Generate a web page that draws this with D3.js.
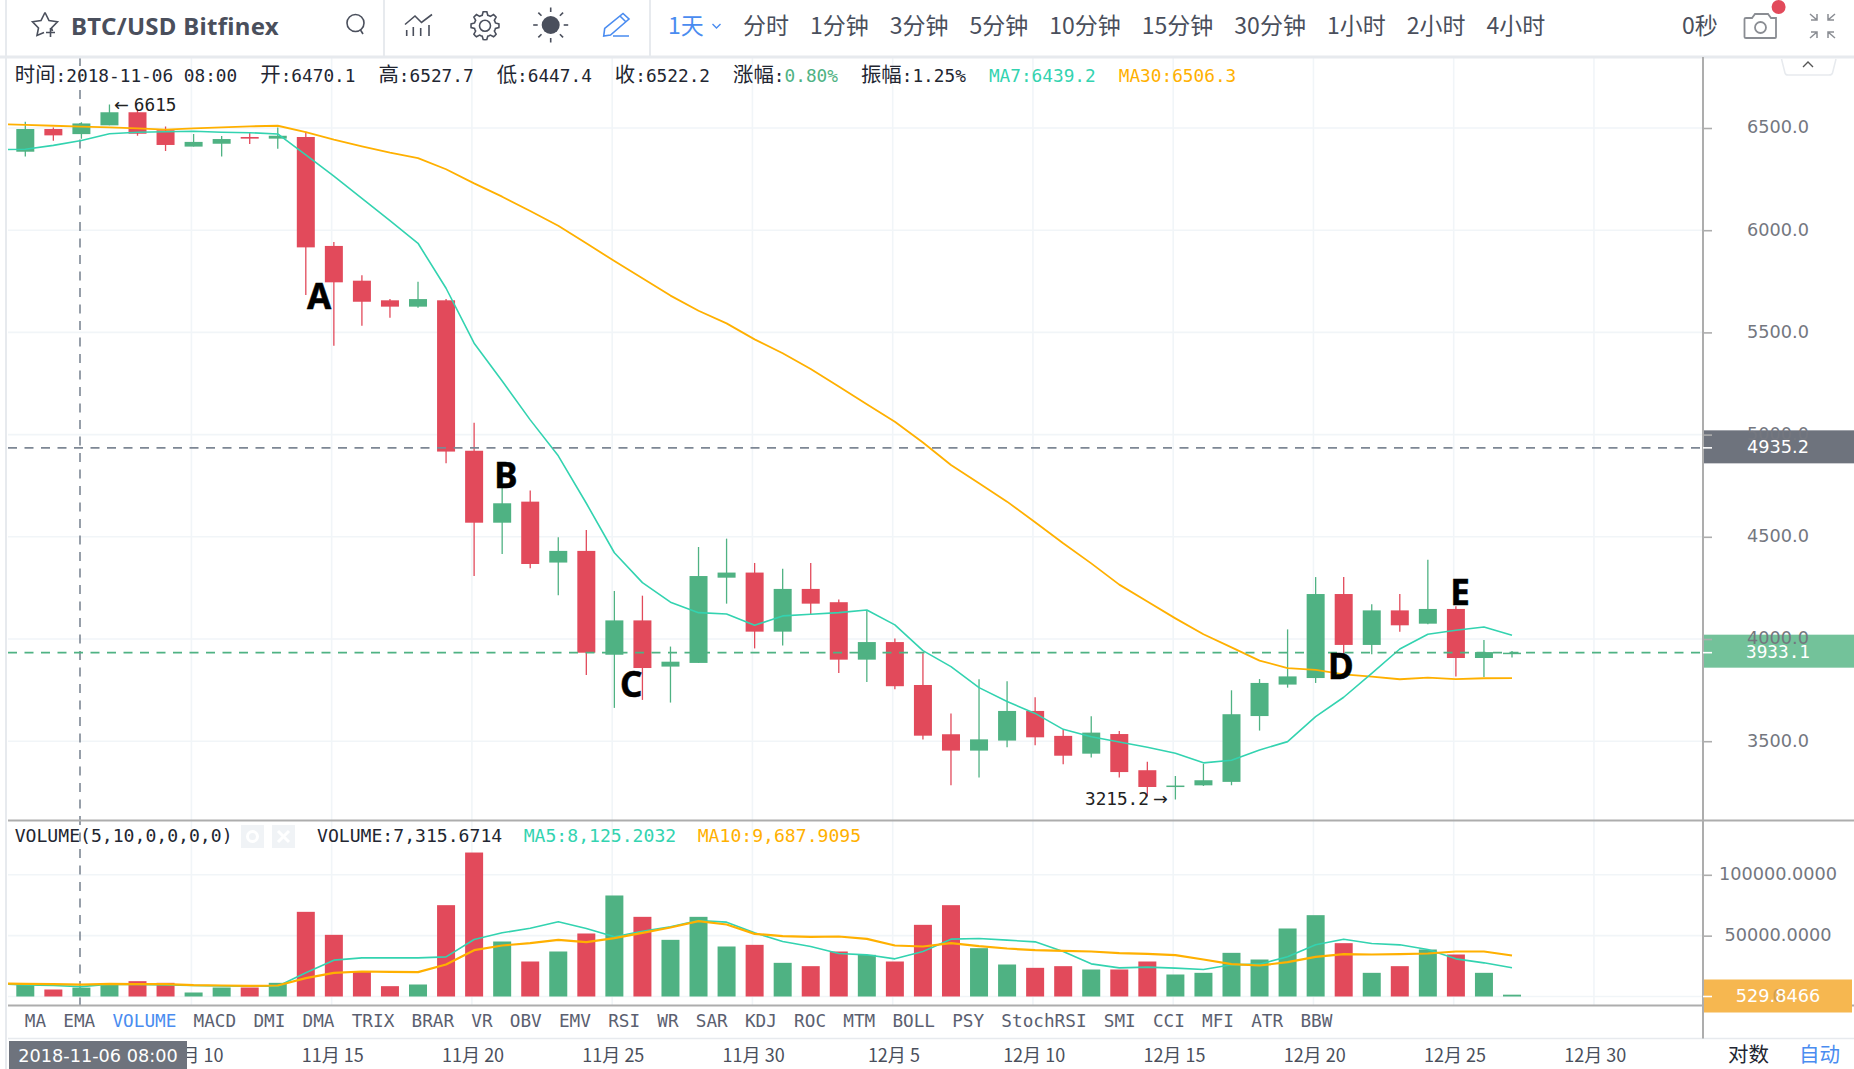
<!DOCTYPE html>
<html>
<head>
<meta charset="utf-8">
<script src="https://cdn.jsdelivr.net/npm/d3@7"></script>
<style>
  html, body { margin: 0; padding: 0; background: #fff; overflow: hidden; }
  svg { display: block; }
  text { font-family: "DejaVu Sans", "Noto Sans CJK SC", sans-serif; }
  .mono { font-family: "DejaVu Sans Mono", monospace; font-size: 17.7px; }
</style>
</head>
<body>
<svg id="chart" width="1854" height="1069"></svg>
<script>
// daily candles, 2018-11-04 .. 2018-12-27
var opens = [6384,6495,6470.1,6513,6577,6489,6409,6423,6456,6448,6456,5923,5753,5657,5626,5657,4921,4569,4672,4374,4431,3923,4091,3865,3883,4300,4325,4036,4245,4180,3899,3985,3775,3534,3454,3503,3648,3526,3439,3535,3358,3279,3284,3301,3623,3777,3809,4220,3971,4140,4075,4147,3907,3930];
var highs = [6531,6502,6527.7,6615,6590,6507,6471,6461,6480,6503,6482,5942,5779,5663,5748,5663,5058,4740,4726,4498,4533,4235,4212,3963,4450,4491,4372,4344,4372,4193,4142,4003,3930,3635,3803,3793,3715,3555,3622,3550,3400,3330,3389,3749,3804,4047,4303,4303,4170,4220,4388,4160,3995,3941];
var lows = [6360,6438,6447.4,6513,6462,6387,6409,6360,6422,6399,5683,5435,5533,5572,5620,4860,4308,4416,4346,4214,3824,3663,3702,3689,3883,4173,3954,3968,4118,3834,3790,3754,3508,3284,3322,3470,3480,3387,3420,3322,3229,3215.2,3281,3284,3552,3762,3785,3930,3925,4036,4072,3816,3814,3910];
var closes = [6495,6464,6522.2,6577,6472,6417,6432,6446,6448,6462,5916,5745,5650,5626,5663,4917,4569,4664,4367,4431,3933,4091,3858,3889,4308,4325,4036,4245,4173,3899,3985,3769,3527,3454,3509,3648,3519,3429,3542,3349,3276,3283,3309,3632,3785,3817,4220,3971,4140,4067,4147,3907,3936,3933.1];
var volumes = [9860,5750,7315.67,9860,12600,11230,3290,7400,7400,11230,69570,50670,20540,8490,9860,75050,118300,45190,28760,36980,51770,83000,65460,46560,65460,41085,42450,27660,24920,36980,34240,28760,58890,75050,39720,26290,23560,24920,22190,22190,28760,18080,19450,35880,30400,55880,66830,43820,19450,24920,38620,34510,19450,1500];

// moving averages start one day before the first visible candle
var ma7 = [6394,6396,6415,6439.2,6472,6479,6482,6484,6479,6477,6471,6368,6265,6156,6047,5936,5716,5447,5262,5072,4896,4664,4422,4276,4180,4129,4122,4067,4113,4121,4129,4142,4069,3943,3865,3762,3694,3636,3558,3522,3496,3470,3441,3394,3407,3457,3498,3620,3715,3832,3951,4023,4043,4059,4018];
var ma30 = [6520,6515,6511,6506.3,6503,6498,6492,6498,6503,6508,6511,6480,6443,6410,6379,6353,6298,6229,6164,6094,6022,5936,5849,5765,5680,5606,5544,5466,5398,5321,5235,5148,5063,4961,4851,4762,4672,4571,4468,4370,4266,4183,4101,4023,3959,3894,3858,3849,3827,3816,3803,3811,3804,3808,3809];
var volMa5 = [10408,9587,9039,8125.2,10134,9860,9587,9039,8765,8491,8491,19447,29855,31772,31772,31772,32594,46837,52315,56150,61354,55876,49028,53684,57245,62449,61080,52315,45194,41085,35333,34238,30951,36977,47111,47659,46289,44920,36977,26842,23555,24103,23282,22186,26021,26568,32594,42455,47111,43550,42455,38620,30951,27664,23555];
var volMa10 = [10682,10408,10134,9687.9,10408,10134,10134,9313,9039,8765,9039,15065,19447,20543,20269,19995,26294,38072,41907,43824,46563,44646,47933,52315,56697,61901,59162,51493,49576,49028,49302,47385,41907,41085,43824,41359,39442,38072,37524,36977,35607,35059,33964,30403,26568,25473,28212,32594,34785,34511,34785,35333,36977,36977,33690];

var priceTicks = [6500,6000,5500,5000,4500,4000,3500];
var volumeTicks = [100000,50000];
var dateTickIdx = [6,11,16,21,26,31,36,41,46,51,56];
var dateTickLabels = ["11月 10","11月 15","11月 20","11月 25","11月 30","12月 5","12月 10","12月 15","12月 20","12月 25","12月 30"];
var intervals = ["分时","1分钟","3分钟","5分钟","10分钟","15分钟","30分钟","1小时","2小时","4小时"];
var indicators = ["MA","EMA","VOLUME","MACD","DMI","DMA","TRIX","BRAR","VR","OBV","EMV","RSI","WR","SAR","KDJ","ROC","MTM","BOLL","PSY","StochRSI","SMI","CCI","MFI","ATR","BBW"];
var marks = [["A",10.47,5615],["B",17.13,4739],["C",21.6,3716],["D",46.9,3805],["E",51.15,4167]];

var GREEN = "#4fb283", RED = "#e24a5b", TEAL = "#33d3b0", ORANGE = "#ffb000",
    GREY = "#7d8794", INK = "#4a4f5c", BLUE = "#4a8cf0", GRID = "#f1f5f8", RULE = "#adadad", EDGE = "#e7eaee";

var AXIS_X = 1703, LEFT = 8, TOP = 57, MAIN_BOTTOM = 820.5, VOL_BOTTOM = 1005.5, TABS_BOTTOM = 1038.5;

var svg = d3.select("#chart");

var x = d3.scaleLinear().domain([0, 53]).range([25.3, 1512]);
var y = d3.scaleLinear().domain([6500, 3500]).range([128, 741.2]);
var yVol = d3.scaleLinear().domain([0, 100000]).range([996.5, 874.8]);
var BODY = 18;

svg.append("defs").append("clipPath").attr("id", "plot")
  .append("rect").attr("x", LEFT).attr("y", TOP).attr("width", AXIS_X - LEFT).attr("height", VOL_BOTTOM - TOP);

// grid
var grid = svg.append("g").attr("stroke", GRID).attr("stroke-width", 1.6);
grid.selectAll(".v").data(dateTickIdx).join("line")
  .attr("x1", function (d) { return x(d) - 2.2; }).attr("x2", function (d) { return x(d) - 2.2; })
  .attr("y1", TOP).attr("y2", VOL_BOTTOM);
grid.selectAll(".h").data(priceTicks).join("line")
  .attr("x1", LEFT).attr("x2", AXIS_X).attr("y1", y).attr("y2", y);
grid.selectAll(".hv").data(volumeTicks.concat([0])).join("line")
  .attr("x1", LEFT).attr("x2", AXIS_X).attr("y1", yVol).attr("y2", yVol);

var plot = svg.append("g").attr("clip-path", "url(#plot)");

// crosshair sits under the candles
plot.append("line").attr("x1", 80).attr("x2", 80).attr("y1", TOP).attr("y2", VOL_BOTTOM)
  .attr("stroke", GREY).attr("stroke-width", 1.6).attr("stroke-dasharray", "9 7.5");

function colorOf(i) { return closes[i] >= opens[i] ? GREEN : RED; }

// wicks, bodies
plot.selectAll(".wick").data(highs).join("line")
  .attr("x1", function (d, i) { return x(i); }).attr("x2", function (d, i) { return x(i); })
  .attr("y1", function (d) { return y(d); }).attr("y2", function (d, i) { return y(lows[i]); })
  .attr("stroke", function (d, i) { return colorOf(i); }).attr("stroke-width", 1.3);
plot.selectAll(".body").data(opens).join("rect")
  .attr("x", function (d, i) { return x(i) - BODY / 2; })
  .attr("y", function (d, i) { return y(Math.max(d, closes[i])); })
  .attr("width", BODY)
  .attr("height", function (d, i) { return Math.max(1.5, Math.abs(y(d) - y(closes[i]))); })
  .attr("fill", function (d, i) { return colorOf(i); });

// volume
plot.selectAll(".vol").data(volumes).join("rect")
  .attr("x", function (d, i) { return x(i) - BODY / 2; })
  .attr("y", function (d) { return yVol(d); })
  .attr("width", BODY)
  .attr("height", function (d) { return yVol(0) - yVol(d); })
  .attr("fill", function (d, i) { return colorOf(i); });

function maLine(scale) {
  return d3.line().x(function (d, i) { return x(i - 1); }).y(function (d) { return scale(d); });
}
function drawLine(values, scale, color, width) {
  plot.append("path").datum(values).attr("d", maLine(scale))
    .attr("fill", "none").attr("stroke", color).attr("stroke-width", width).attr("stroke-linejoin", "round");
}
drawLine(ma30, y, ORANGE, 1.8);
drawLine(ma7, y, TEAL, 1.6);
drawLine(volMa5, yVol, TEAL, 1.6);
drawLine(volMa10, yVol, ORANGE, 2.2);

// last / hovered price lines
var hoverPrice = 4935.2, lastPrice = 3933.1, lastVolume = 529.8466;
[[hoverPrice, GREY], [lastPrice, GREEN]].forEach(function (p) {
  svg.append("line").attr("x1", LEFT).attr("x2", AXIS_X).attr("y1", y(p[0])).attr("y2", y(p[0]))
    .attr("stroke", p[1]).attr("stroke-width", 1.8).attr("stroke-dasharray", "9 7.5");
});

// A-E marks
svg.selectAll(".mark").data(marks).join("text")
  .attr("x", function (d) { return x(d[1]); }).attr("y", function (d) { return y(d[2]); })
  .attr("text-anchor", "middle").attr("fill", "#000").attr("stroke", "#000").attr("stroke-width", 0.5)
  .style("font-family", '"Noto Sans", sans-serif').style("font-weight", 700).style("font-size", "35px")
  .text(function (d) { return d[0]; });

// high / low notes, the arrows come from the wider sans font
var noteHigh = svg.append("text").attr("class", "mono").attr("x", 114).attr("y", 110.5).attr("fill", "#222");
noteHigh.append("tspan").style("font-family", '"DejaVu Sans"').text("←");
noteHigh.append("tspan").attr("dx", 5).text("6615");
var noteLow = svg.append("text").attr("class", "mono").attr("x", 1085).attr("y", 804.5).attr("fill", "#222");
noteLow.append("tspan").text("3215.2");
noteLow.append("tspan").attr("dx", 4).style("font-family", '"DejaVu Sans"').text("→");

// price label boxes go under the axis text so the ticks still show through
svg.append("rect").attr("x", 1702).attr("y", y(hoverPrice) - 17.5).attr("width", 152).attr("height", 33).attr("fill", "#6e737d");
svg.append("rect").attr("x", 1702).attr("y", y(lastPrice) - 18).attr("width", 152).attr("height", 33).attr("fill", "#73c29a");
svg.append("rect").attr("x", 1702).attr("y", yVol(0) - 17).attr("width", 150).attr("height", 33).attr("fill", "#f6b750");

// frame
svg.append("rect").attr("x", 0).attr("y", 0).attr("width", 1854).attr("height", 56).attr("fill", "#fff");
var frame = svg.append("g");
frame.append("line").attr("x1", 0).attr("x2", 1854).attr("y1", 57).attr("y2", 57).attr("stroke", EDGE).attr("stroke-width", 3);
frame.append("line").attr("x1", 6).attr("x2", 6).attr("y1", 0).attr("y2", 1069).attr("stroke", EDGE).attr("stroke-width", 2);
frame.append("line").attr("x1", 384).attr("x2", 384).attr("y1", 0).attr("y2", 56).attr("stroke", EDGE).attr("stroke-width", 2);
frame.append("line").attr("x1", 650).attr("x2", 650).attr("y1", 0).attr("y2", 56).attr("stroke", EDGE).attr("stroke-width", 2);
frame.append("line").attr("x1", LEFT).attr("x2", 1854).attr("y1", MAIN_BOTTOM).attr("y2", MAIN_BOTTOM).attr("stroke", RULE).attr("stroke-width", 2);
frame.append("line").attr("x1", LEFT).attr("x2", 1702).attr("y1", VOL_BOTTOM).attr("y2", VOL_BOTTOM).attr("stroke", RULE).attr("stroke-width", 2);
frame.append("line").attr("x1", 1852).attr("x2", 1854).attr("y1", VOL_BOTTOM).attr("y2", VOL_BOTTOM).attr("stroke", RULE).attr("stroke-width", 2);
frame.append("line").attr("x1", LEFT).attr("x2", 1854).attr("y1", TABS_BOTTOM).attr("y2", TABS_BOTTOM).attr("stroke", EDGE).attr("stroke-width", 1.5);
frame.append("line").attr("x1", AXIS_X).attr("x2", AXIS_X).attr("y1", TOP).attr("y2", TABS_BOTTOM).attr("stroke", RULE).attr("stroke-width", 2);

// axes
function styleAxis(g) {
  g.select(".domain").remove();
  g.selectAll(".tick line").attr("stroke", RULE).attr("stroke-width", 1.6);
  g.selectAll(".tick text").attr("x", 75).attr("y", -0.8).attr("text-anchor", "middle").attr("fill", "#74777f")
    .style("font-size", "17.7px").style("font-family", '"DejaVu Sans", sans-serif');
}
svg.append("g").attr("transform", "translate(" + AXIS_X + ",0)")
  .call(d3.axisRight(y).tickValues(priceTicks).tickFormat(d3.format(".1f")).tickSize(9))
  .call(styleAxis);
svg.append("g").attr("transform", "translate(" + AXIS_X + ",0)")
  .call(d3.axisRight(yVol).tickValues(volumeTicks).tickFormat(d3.format(".4f")).tickSize(9))
  .call(styleAxis);

var xAxis = svg.append("g").attr("transform", "translate(0," + (TABS_BOTTOM + 1) + ")")
  .call(d3.axisBottom(d3.scaleLinear().domain([0, 53]).range([x(0) - 1.5, x(53) - 1.5]))
    .tickValues(dateTickIdx).tickSize(0)
    .tickFormat(function (d, i) { return dateTickLabels[i]; }));
xAxis.select(".domain").remove();
xAxis.selectAll("text").attr("y", 22).attr("dy", 0).attr("fill", INK)
  .style("font-size", "18px").style("font-family", '"Noto Sans CJK SC", sans-serif');

// value labels on the axis
function priceTag(val, txt, cls) {
  svg.append("line").attr("x1", AXIS_X).attr("x2", AXIS_X + 9).attr("y1", val).attr("y2", val).attr("stroke", "#fff").attr("stroke-width", 1.6);
  svg.append("text").attr("class", cls || null).attr("x", 1778).attr("y", val - 0.8).attr("dy", "0.36em")
    .attr("text-anchor", "middle").attr("fill", "#fff").style("font-size", "17.7px").text(txt);
}
svg.append("text").attr("x", 1778).attr("y", yVol(0) - 0.8).attr("dy", "0.36em").attr("text-anchor", "middle")
  .attr("fill", "#cfa050").style("font-size", "17.7px").text("0");
priceTag(y(hoverPrice), hoverPrice.toFixed(1));
priceTag(y(lastPrice), lastPrice.toFixed(1), "mono");
priceTag(yVol(0), lastVolume.toFixed(4));

// crosshair date label
svg.append("rect").attr("x", 9).attr("y", 1041).attr("width", 178).attr("height", 28).attr("fill", "#6e737d");
svg.append("text").attr("x", 98).attr("y", 1061.5).attr("text-anchor", "middle").attr("fill", "#fff")
  .style("font-size", "17.7px").text("2018-11-06 08:00");

// rows of mono text; the CJK glyphs run wider than the latin ones in the original
function monoRow(startX, baseline, gap, size, segments) {
  var cur = startX;
  segments.forEach(function (seg) {
    var t = svg.append("text").attr("class", "mono").attr("x", cur).attr("y", baseline).style("font-size", size + "px");
    seg.forEach(function (part) {
      part[0].split(/([\u4e00-\u9fff]+)/).forEach(function (s) {
        if (!s) return;
        var span = t.append("tspan").attr("fill", part[1]).text(s);
        if (/[\u4e00-\u9fff]/.test(s)) span.style("font-family", '"Noto Sans CJK SC"').style("font-size", "20.4px");
      });
    });
    cur += t.node().getComputedTextLength() + gap;
  });
}
var dark = "#222631";
monoRow(14.8, 81.5, 23, 17.75, [
  [["时间:2018-11-06 08:00", dark]],
  [["开:6470.1", dark]],
  [["高:6527.7", dark]],
  [["低:6447.4", dark]],
  [["收:6522.2", dark]],
  [["涨幅:", dark], ["0.80%", GREEN]],
  [["振幅:1.25%", dark]],
  [["MA7:6439.2", TEAL]],
  [["MA30:6506.3", ORANGE]]
]);
monoRow(14.7, 842, 0, 18.1, [[["VOLUME(5,10,0,0,0,0)", dark]]]);
monoRow(317, 842, 21.5, 18.1, [
  [["VOLUME:7,315.6714", dark]],
  [["MA5:8,125.2032", TEAL]],
  [["MA10:9,687.9095", ORANGE]]
]);

// pane buttons
[241, 272].forEach(function (bx) {
  svg.append("rect").attr("x", bx).attr("y", 825).attr("width", 23).attr("height", 23).attr("fill", "#f0f3f6");
});
svg.append("circle").attr("cx", 252.5).attr("cy", 836.5).attr("r", 5).attr("fill", "none").attr("stroke", "#fff").attr("stroke-width", 3);
svg.append("path").attr("d", "M278 831 L289 842 M289 831 L278 842").attr("stroke", "#fff").attr("stroke-width", 3);

// indicator tabs
var tabX = 24.8;
indicators.forEach(function (name) {
  var t = svg.append("text").attr("class", "mono").attr("x", tabX).attr("y", 1027)
    .attr("fill", name === "VOLUME" ? BLUE : "#5b6070").text(name);
  tabX += t.node().getComputedTextLength() + 17.2;
});

// scale buttons
svg.append("text").attr("x", 1728).attr("y", 1062).attr("fill", dark)
  .style("font-family", '"Noto Sans CJK SC"').style("font-size", "20.5px").text("对数");
svg.append("text").attr("x", 1799).attr("y", 1062).attr("fill", BLUE)
  .style("font-family", '"Noto Sans CJK SC"').style("font-size", "20.5px").text("自动");

// toolbar text
svg.append("text").attr("x", 71).attr("y", 34.5).attr("fill", INK)
  .style("font-family", '"Noto Sans", sans-serif').style("font-weight", 700).style("font-size", "24px")
  .style("letter-spacing", "0.3px").text("BTC/USD Bitfinex");
var cjk = '"Noto Sans CJK SC", sans-serif';
svg.append("text").attr("x", 668).attr("y", 34).attr("fill", BLUE).style("font-family", cjk).style("font-size", "23px").text("1天");
var barX = 743;
intervals.forEach(function (name) {
  var t = svg.append("text").attr("x", barX).attr("y", 34).attr("fill", INK).style("font-family", cjk).style("font-size", "23px").text(name);
  barX += t.node().getComputedTextLength() + 21;
});
svg.append("text").attr("x", 1682).attr("y", 34).attr("fill", INK).style("font-family", cjk).style("font-size", "23px").text("0秒");

// toolbar icons
var icons = svg.append("g").attr("fill", "none").attr("stroke", INK).attr("stroke-width", 1.6);
icons.append("path").attr("d", "M45 12.5 L49 20.5 L57.5 21.8 L51.5 28 L52.5 31 M45 12.5 L41 20.5 L32.5 21.8 L38.5 28 L37 35.5 L44 32.5 M46 32.5 H55 M50.5 28 V37");
icons.append("circle").attr("cx", 355.5).attr("cy", 23).attr("r", 8.5);
icons.append("path").attr("d", "M360.5 30 L363 34");
icons.append("path").attr("d", "M405 24.5 L415 16 L421.5 22.5 L432 14.5 M406.7 30 V36 M413.3 27 V36 M420.7 28 V36 M429 25 V36");
var gearAngles = d3.range(48);
icons.append("path").attr("d", d3.lineRadial()
  .angle(function (d) { return d / 48 * 2 * Math.PI; })
  .radius(function (d) { return (d + 1) % 6 < 3 ? 14 : 10.8; })
  .curve(d3.curveLinearClosed)(gearAngles)).attr("transform", "translate(485,25.7)");
icons.append("circle").attr("cx", 485).attr("cy", 25.7).attr("r", 5.5);
svg.append("circle").attr("cx", 550.7).attr("cy", 25).attr("r", 9).attr("fill", INK);
d3.range(8).forEach(function (k) {
  var a = k * Math.PI / 4;
  icons.append("line").attr("x1", 550.7 + 13 * Math.cos(a)).attr("y1", 25 + 13 * Math.sin(a))
    .attr("x2", 550.7 + 17.5 * Math.cos(a)).attr("y2", 25 + 17.5 * Math.sin(a));
});
svg.append("path").attr("d", "M603.7 36 L604.7 28.5 L623 13.5 L629 19 L610.5 35 Z M620 16 L626 22 M613 36 H629")
  .attr("fill", "none").attr("stroke", BLUE).attr("stroke-width", 1.6);
svg.append("path").attr("d", "M712.5 24 L716.5 28 L720.5 24").attr("fill", "none").attr("stroke", BLUE).attr("stroke-width", 1.4);

// camera, fullscreen, collapse
var cam = svg.append("g").attr("fill", "none").attr("stroke", "#8a8d93").attr("stroke-width", 1.8);
cam.append("path").attr("d", "M1746 18 H1752 L1755 14 H1768 L1771 18 H1776 V37 Q1776 38 1775 38 H1746 Q1744.5 38 1744.5 37 V19 Q1744.5 18 1746 18 Z");
cam.append("circle").attr("cx", 1760.5).attr("cy", 27.5).attr("r", 5.5);
svg.append("circle").attr("cx", 1778.6).attr("cy", 7).attr("r", 7).attr("fill", RED);
var fs = svg.append("g").attr("fill", "none").attr("stroke", "#8a8d93").attr("stroke-width", 1.5);
fs.append("path").attr("d", "M1810 14 L1817 20 M1811 20 H1817 V14 M1835 14 L1828 20 M1834 20 H1828 V14 M1810 38 L1817 32 M1811 32 H1817 V38 M1835 38 L1828 32 M1834 32 H1828 V38");
svg.append("path").attr("d", "M1781.5 59 L1785 73 Q1785.5 75 1788 75 H1829 Q1832 75 1832.5 73 L1836 59")
  .attr("fill", "#fff").attr("stroke", EDGE).attr("stroke-width", 1.5);
svg.append("path").attr("d", "M1803 67 L1808 62 L1813 67").attr("fill", "none").attr("stroke", "#555").attr("stroke-width", 1.4);
</script>
</body>
</html>
